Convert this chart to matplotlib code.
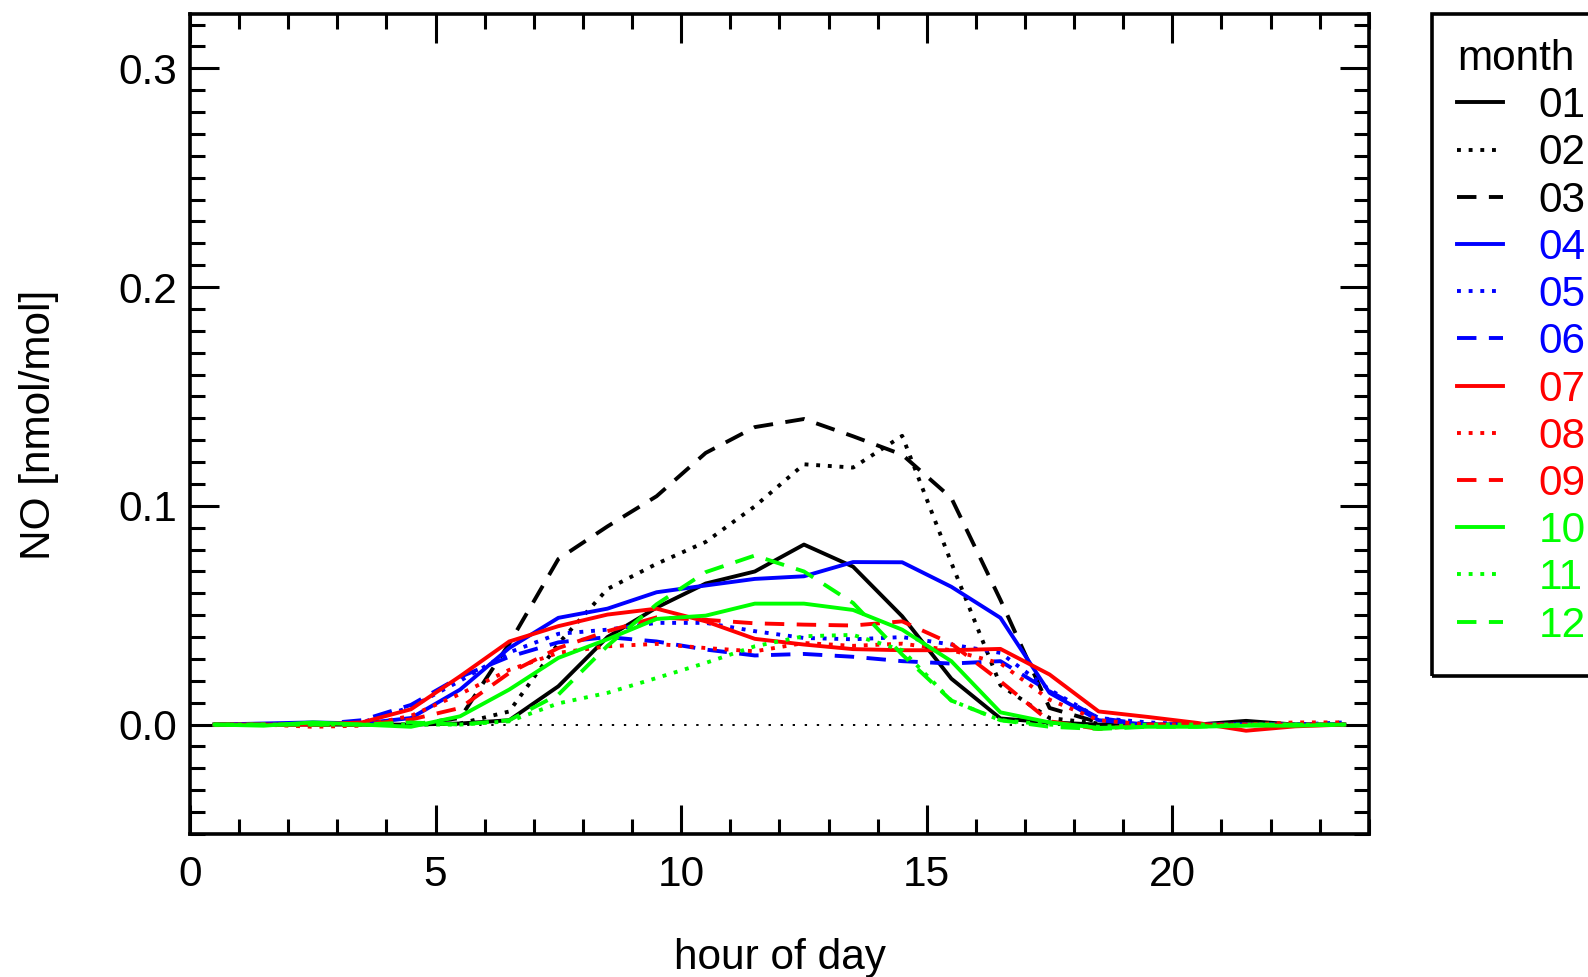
import matplotlib
matplotlib.use("Agg")
import matplotlib.pyplot as plt
from matplotlib.patches import Rectangle
from matplotlib.ticker import MultipleLocator

plt.rcParams['font.family'] = ['Liberation Sans', 'DejaVu Sans']

# hour of day (half-hour centres) and monthly mean diurnal NO [nmol/mol]
hours = [h + 0.5 for h in range(24)]

m01 = [0, 0, 0, 0, 0, 0.0005, 0.002, 0.0175, 0.040, 0.0535, 0.0645, 0.070,
       0.0823, 0.0722, 0.0495, 0.021, 0.0028, 0.001, 0, 0, 0, 0.0017, 0, 0]
m02 = [0, 0, 0, 0, 0, 0.0005, 0.006, 0.037, 0.062, 0.0735, 0.0835, 0.0998,
       0.119, 0.1175, 0.132, 0.074, 0.018, 0.003, 0.0005, 0, 0, 0, 0, 0]
m03 = [0, 0, 0, 0, 0, 0.003, 0.037, 0.0757, 0.0906, 0.1044, 0.1242, 0.136,
       0.1397, 0.1318, 0.1234, 0.1036, 0.057, 0.0076, 0.001, 0, 0, 0, 0, 0]
m04 = [0, 0.0005, 0.001, 0.0005, 0.003, 0.016, 0.035, 0.0488, 0.053, 0.0605, 0.0636, 0.0666,
       0.0678, 0.0743, 0.0742, 0.063, 0.0488, 0.0145, 0.002, 0, 0, 0, 0, 0]
m05 = [0, 0, 0, 0.001, 0.008, 0.020, 0.033, 0.0415, 0.0434, 0.0465, 0.0465, 0.0427,
       0.0396, 0.039, 0.040, 0.0366, 0.0328, 0.016, 0.003, 0.001, 0, 0, 0, 0.001]
m06 = [0, 0, 0, 0.002, 0.009, 0.0218, 0.031, 0.0376, 0.040, 0.038, 0.0343, 0.0316,
       0.0323, 0.031, 0.029, 0.0279, 0.029, 0.0152, 0.003, 0, 0, 0, 0, 0]
m07 = [0, 0, 0, 0.001, 0.007, 0.0221, 0.038, 0.045, 0.0503, 0.053, 0.0472, 0.0392,
       0.0366, 0.0345, 0.034, 0.034, 0.0346, 0.0229, 0.006, 0.0035, 0.0008, -0.0028, -0.0008, 0]
m08 = [0, 0, -0.001, -0.0005, 0.004, 0.014, 0.025, 0.0328, 0.0358, 0.0369, 0.035, 0.0335,
       0.0373, 0.036, 0.037, 0.034, 0.028, 0.0114, 0.002, 0, 0, 0, 0.001, 0.001]
m09 = [0, 0, 0, 0, 0.0023, 0.0076, 0.0236, 0.035, 0.0427, 0.049, 0.0479, 0.0463,
       0.0457, 0.0453, 0.0472, 0.037, 0.0198, 0.0015, -0.002, 0, 0, 0, 0, 0]
m10 = [0, -0.0005, 0.001, 0, -0.001, 0.0038, 0.016, 0.0305, 0.039, 0.0483, 0.0498, 0.0553,
       0.0553, 0.0524, 0.0434, 0.029, 0.0056, 0.001, -0.0015, -0.001, -0.001, -0.0005, -0.0005, 0]
m11 = [0, 0, 0, 0, 0, 0, 0.0015, 0.0097, 0.0145, 0.0213, 0.0282, 0.0358,
       0.0404, 0.041, 0.034, 0.011, 0.002, 0, -0.001, 0, 0, 0, 0, 0]
m12 = [0, 0, 0, 0, 0.001, 0, 0.002, 0.0137, 0.036, 0.055, 0.0697, 0.0773,
       0.070, 0.0556, 0.032, 0.011, 0.002, -0.001, -0.002, -0.001, -0.001, 0, 0, 0]

months = ['01', '02', '03', '04', '05', '06', '07', '08', '09', '10', '11', '12']
series = [m01, m02, m03, m04, m05, m06, m07, m08, m09, m10, m11, m12]
colors = ['black', 'blue', 'red', '#00ff00']
styles = ['-', (0, (1, 2)), (0, (5, 3.2))]

FS = 30.5

fig = plt.figure(figsize=(15.88, 9.77), dpi=100)
ax = fig.add_axes([0.1196, 0.1464, 0.7424, 0.8396])

# dotted zero reference
ax.plot(hours, [0] * len(hours), color='black', lw=1.4, linestyle=(0, (1.2, 5)))

for i, (lab, vals) in enumerate(zip(months, series)):
    ax.plot(hours, vals, color=colors[i // 3], linestyle=styles[i % 3], lw=2.8, label=lab)

ax.set_xlim(0, 24)
ax.set_ylim(-0.05, 0.325)
ax.xaxis.set_major_locator(MultipleLocator(5))
ax.xaxis.set_minor_locator(MultipleLocator(1))
ax.yaxis.set_major_locator(MultipleLocator(0.1))
ax.yaxis.set_minor_locator(MultipleLocator(0.01))
ax.tick_params(which='both', direction='in', top=True, right=True, width=2.2, labelsize=FS)
ax.tick_params(which='major', length=21)
ax.tick_params(which='minor', length=10.5)
ax.tick_params(axis='x', pad=15)
ax.tick_params(axis='y', pad=9)
ax.yaxis.set_major_formatter(plt.FuncFormatter(lambda v, p: f"{v:.1f}"))
for s in ax.spines.values():
    s.set_linewidth(2.6)

fig.text(0.0243, 0.5655, 'NO [nmol/mol]', rotation=90, ha='center', va='center', fontsize=FS)
fig.text(0.4909, 0.019, 'hour of day', ha='center', va='center', fontsize=FS)

leg = ax.legend(loc='upper left', bbox_to_anchor=(1.0534, 1.0), title='month',
                alignment='left', labelcolor='linecolor', fontsize=FS, title_fontsize=FS,
                frameon=False, handlelength=1.075, handletextpad=0.84, borderpad=0.6,
                labelspacing=0.17, borderaxespad=0)
# legend box (runs off the right edge of the page like the original)
ax.add_patch(Rectangle((1.0534, 0.1922), 0.3, 1.0 - 0.1922, transform=ax.transAxes,
                       fill=False, edgecolor='black', lw=2.6, clip_on=False))

fig.savefig('out.png', dpi=100)
